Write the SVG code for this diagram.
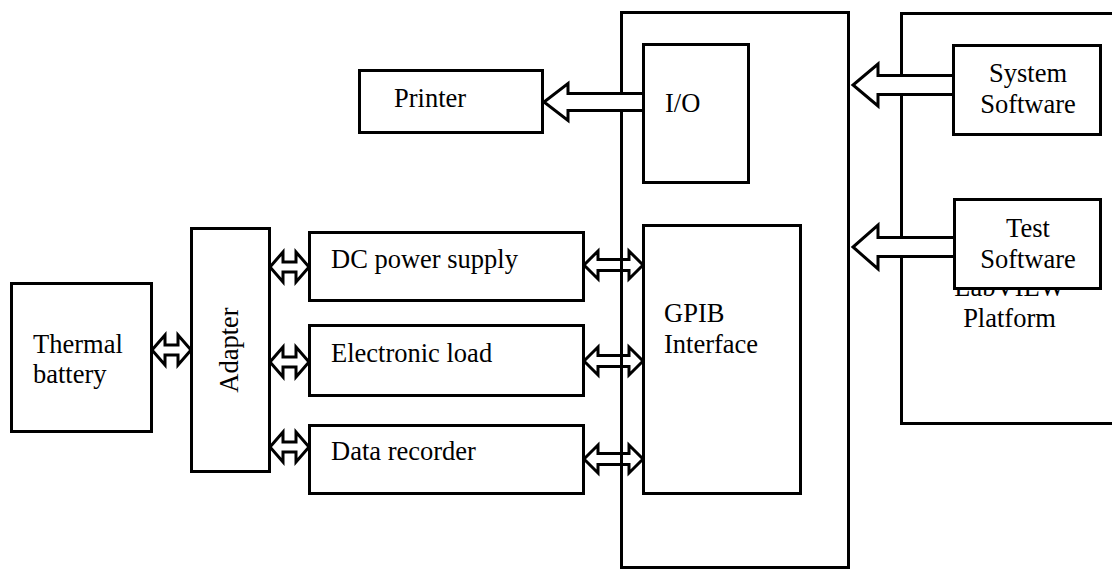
<svg xmlns="http://www.w3.org/2000/svg" width="1112" height="570" viewBox="0 0 1112 570">
<style>
.box{fill:none;stroke:#000;stroke-width:3}
.wbox{fill:#fff;stroke:#000;stroke-width:3}
.dbl{fill:none;stroke:#000;stroke-width:3;stroke-linejoin:miter}
.sgl{fill:#fff;stroke:#000;stroke-width:3;stroke-linejoin:miter}
text{font-family:"Liberation Serif","Times New Roman",serif;font-size:26.5px;fill:#000}
.c{text-anchor:middle}
</style>
<rect width="1112" height="570" fill="#fff"/>
<g id="computer">
<rect class="box" x="621.5" y="12.5" width="227" height="555"/>
</g>
<g id="labview">
<rect class="box" x="901.5" y="13.5" width="250" height="410"/>
<text class="c" x="1009.5" y="296">LabVIEW</text>
<text class="c" x="1009.5" y="327">Platform</text>
</g>
<g id="connectors">
<path class="dbl" d="M152,350 L165,335 L165,345 L178,345 L178,335 L191,350 L178,365 L178,355 L165,355 L165,365 Z"/>
<path class="dbl" d="M270,267 L283,252 L283,262 L296,262 L296,252 L309,267 L296,282 L296,272 L283,272 L283,282 Z"/>
<path class="dbl" d="M270,362 L283,347 L283,357 L296,357 L296,347 L309,362 L296,377 L296,367 L283,367 L283,377 Z"/>
<path class="dbl" d="M270,447 L283,432 L283,442 L296,442 L296,432 L309,447 L296,462 L296,452 L283,452 L283,462 Z"/>
<path class="dbl" d="M584,265 L598,251 L598,259.5 L629,259.5 L629,251 L643,265 L629,279 L629,270.5 L598,270.5 L598,279 Z"/>
<path class="dbl" d="M584,361 L598,347 L598,355.5 L629,355.5 L629,347 L643,361 L629,375 L629,366.5 L598,366.5 L598,375 Z"/>
<path class="dbl" d="M584,459 L598,445 L598,453.5 L629,453.5 L629,445 L643,459 L629,473 L629,464.5 L598,464.5 L598,473 Z"/>
<path class="sgl" d="M643,93.5 L568,93.5 L568,83.5 L544,102 L568,120.5 L568,110.5 L643,110.5"/>
<path class="sgl" d="M953,75.5 L878,75.5 L878,64 L853,85 L878,106 L878,94.5 L953,94.5"/>
<path class="sgl" d="M954,237.5 L878,237.5 L878,225 L853,247 L878,269 L878,256.5 L954,256.5"/>
</g>
<g id="thermal-battery">
<rect class="box" x="11.5" y="283.5" width="140" height="148"/>
<text x="33" y="353">Thermal</text>
<text x="33" y="383">battery</text>
</g>
<g id="adapter">
<rect class="box" x="191.5" y="228.5" width="78" height="243"/>
<text class="c" transform="translate(238,350) rotate(-90)">Adapter</text>
</g>
<g id="dc-power-supply">
<rect class="box" x="309.5" y="232.5" width="274" height="68"/>
<text x="331" y="268">DC power supply</text>
</g>
<g id="electronic-load">
<rect class="box" x="309.5" y="325.5" width="274" height="70"/>
<text x="331" y="362">Electronic load</text>
</g>
<g id="data-recorder">
<rect class="box" x="309.5" y="425.5" width="274" height="68"/>
<text x="331" y="460">Data recorder</text>
</g>
<g id="printer">
<rect class="box" x="359.5" y="70.5" width="183" height="62"/>
<text x="394" y="107">Printer</text>
</g>
<g id="io">
<rect class="box" x="643.5" y="44.5" width="105" height="138"/>
<text x="665" y="112">I/O</text>
</g>
<g id="gpib">
<rect class="box" x="643.5" y="225.5" width="157" height="268"/>
<text x="664" y="322">GPIB</text>
<text x="664" y="353">Interface</text>
</g>
<g id="system-software">
<rect class="wbox" x="953.5" y="45.5" width="147" height="89"/>
<text class="c" x="1028" y="82">System</text>
<text class="c" x="1028" y="113">Software</text>
</g>
<g id="test-software">
<rect class="wbox" x="954.5" y="199.5" width="146" height="89"/>
<text class="c" x="1028" y="237">Test</text>
<text class="c" x="1028" y="268">Software</text>
</g>
</svg>
